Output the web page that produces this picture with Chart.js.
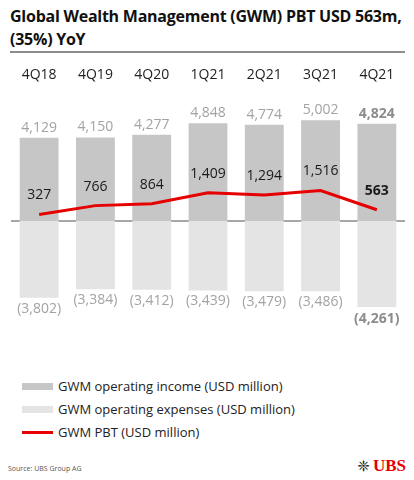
<!DOCTYPE html>
<html lang="en">
<head>
    <meta charset="UTF-8">
    <title>GWM PBT</title>
    <script src="https://cdn.jsdelivr.net/npm/chart.js"></script>
    <style>
        body {
            margin: 0;
            width: 414px;
            height: 480px;
            background: #fff;
            font-family: "Open Sans", sans-serif;
            position: relative;
            overflow: hidden;
        }
        #title {
            position: absolute;
            left: 10px;
            top: 5px;
            white-space: nowrap;
            font-size: 16px;
            font-weight: bold;
            line-height: 23px;
            letter-spacing: -0.25px;
            color: #111;
        }
        #rule {
            position: absolute;
            left: 10px;
            top: 51px;
            width: 395px;
            height: 2px;
            background: #8c8c8c;
        }
        #chart-box {
            position: absolute;
            left: 0;
            top: 51px;
            width: 414px;
            height: 309px;
        }
        .leg {
            position: absolute;
            left: 22px;
            font-size: 13px;
            color: #222;
            line-height: 16px;
        }
        .leg span {
            display: inline-block;
            width: 31px;
            vertical-align: middle;
            margin-right: 5px;
            margin-top: -3px;
        }
        #source {
            position: absolute;
            left: 8px;
            top: 464px;
            font-size: 7px;
            color: #555;
        }
        #logo {
            position: absolute;
            right: 8px;
            top: 456px;
            font-family: "Liberation Serif", serif;
            font-weight: bold;
            font-size: 17px;
            color: #e60000;
        }
        #logo b {
            color: #222;
            font-family: "DejaVu Sans", sans-serif;
            font-size: 15px;
            margin-right: 3px;
        }
    </style>
</head>
<body>
    <div id="title">Global Wealth Management (GWM) PBT USD 563m,<br>(35%) YoY</div>
    <div id="rule"></div>
    <div id="chart-box"><canvas id="myChart"></canvas></div>
    <div class="leg" style="top:378px"><span style="height:7px;background:#c6c6c6"></span>GWM operating income (USD million)</div>
    <div class="leg" style="top:401px"><span style="height:7px;background:#e4e4e4"></span>GWM operating expenses (USD million)</div>
    <div class="leg" style="top:424px"><span style="height:3px;background:#e60000"></span>GWM PBT (USD million)</div>
    <div id="source">Source: UBS Group AG</div>
    <div id="logo"><b>❈</b>UBS</div>

    <script>
        const quarters = ['4Q18', '4Q19', '4Q20', '1Q21', '2Q21', '3Q21', '4Q21'];
        const operatingIncome = [4129, 4150, 4277, 4848, 4774, 5002, 4824];
        const operatingExpenses = [-3802, -3384, -3412, -3439, -3479, -3486, -4261];
        const pbt = [327, 766, 864, 1409, 1294, 1516, 563];

        const fmt = v => Math.abs(v).toLocaleString('en-US');

        // value labels, zero line
        const labelPlugin = {
            id: 'labels',
            beforeDatasetsDraw(chart) {
                const { ctx, chartArea, scales } = chart;
                const y0 = scales.y.getPixelForValue(0);
                ctx.save();
                ctx.strokeStyle = '#8a8a8a';
                ctx.lineWidth = 1.5;
                ctx.beginPath();
                ctx.moveTo(chartArea.left, y0);
                ctx.lineTo(chartArea.right, y0);
                ctx.stroke();
                ctx.restore();
            },
            afterDatasetsDraw(chart) {
                const { ctx } = chart;
                const last = quarters.length - 1;
                ctx.save();
                ctx.textAlign = 'center';
                ctx.textBaseline = 'middle';
                chart.getDatasetMeta(0).data.forEach((bar, i) => {
                    ctx.font = (i === last ? 'bold ' : '') + '14px "Open Sans"';
                    ctx.fillStyle = i === last ? '#8c8c8c' : '#a3a3a3';
                    ctx.fillText(fmt(operatingIncome[i]), bar.x, bar.y - 10);
                });
                chart.getDatasetMeta(1).data.forEach((bar, i) => {
                    ctx.font = (i === last ? 'bold ' : '') + '14px "Open Sans"';
                    ctx.fillStyle = i === last ? '#8c8c8c' : '#a3a3a3';
                    ctx.fillText('(' + fmt(operatingExpenses[i]) + ')', bar.x, bar.y + (i === last ? 12 : 11));
                });
                chart.getDatasetMeta(2).data.forEach((pt, i) => {
                    ctx.font = (i === last ? 'bold ' : '') + '14px "Open Sans"';
                    ctx.fillStyle = '#1a1a1a';
                    ctx.fillText(fmt(pbt[i]), pt.x, pt.y - 19);
                });
                ctx.restore();
            }
        };

        new Chart(document.getElementById('myChart'), {
            data: {
                labels: quarters,
                datasets: [
                    {
                        type: 'bar',
                        label: 'GWM operating income (USD million)',
                        data: operatingIncome,
                        backgroundColor: '#c6c6c6',
                        barPercentage: 0.69,
                        categoryPercentage: 1,
                        order: 2
                    },
                    {
                        type: 'bar',
                        label: 'GWM operating expenses (USD million)',
                        data: operatingExpenses,
                        backgroundColor: '#e4e4e4',
                        barPercentage: 0.69,
                        categoryPercentage: 1,
                        order: 2
                    },
                    {
                        type: 'line',
                        label: 'GWM PBT (USD million)',
                        data: pbt,
                        borderColor: '#e60000',
                        borderWidth: 3,
                        pointRadius: 0,
                        tension: 0,
                        order: 1
                    }
                ]
            },
            options: {
                responsive: true,
                maintainAspectRatio: false,
                animation: false,
                layout: { padding: { left: 11, right: 9, top: 0, bottom: 0 } },
                plugins: {
                    legend: { display: false },
                    tooltip: { enabled: false }
                },
                scales: {
                    x: {
                        position: 'top',
                        stacked: true,
                        grid: { display: false, drawTicks: false },
                        border: { display: false },
                        ticks: {
                            color: '#222',
                            font: { family: 'Open Sans', size: 14 },
                            padding: 7
                        },
                        afterFit: s => { s.height = 39; }
                    },
                    y: {
                        display: false,
                        stacked: true,
                        min: -6890,
                        max: 6500
                    }
                }
            },
            plugins: [labelPlugin]
        });
    </script>
</body>
</html>
